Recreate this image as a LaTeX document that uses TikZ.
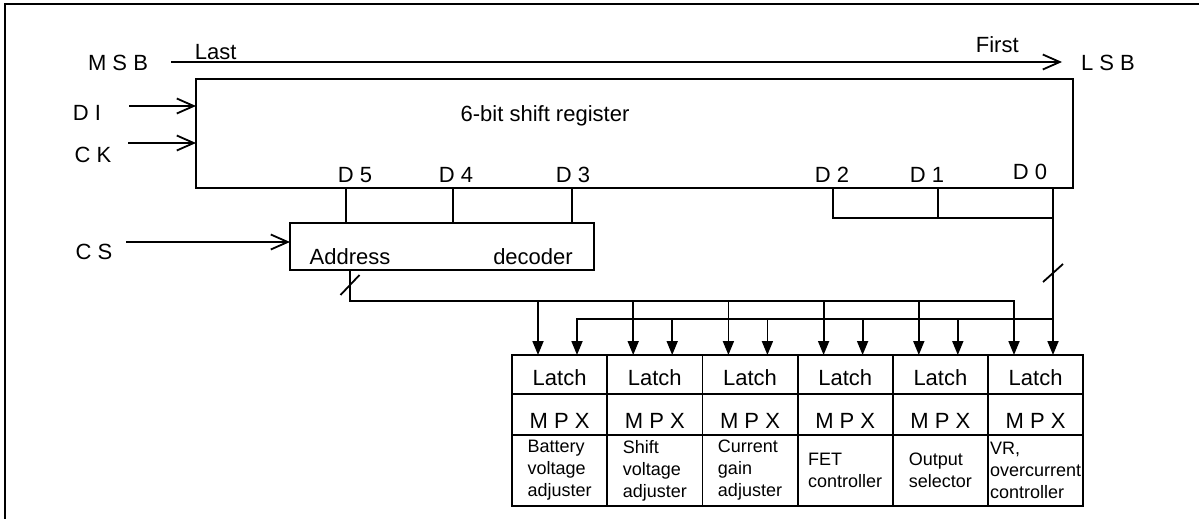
\documentclass[tikz,border=0pt]{standalone}
\usepackage{fontspec}
\setmainfont{Liberation Sans}
\usetikzlibrary{arrows.meta,positioning}

\begin{document}
\begin{tikzpicture}[x=0.5pt,y=-0.5pt,
    line width=0.9pt,
    blk/.style={draw,rectangle,inner sep=0pt,outer sep=0pt},
    lbl/.style={font=\fontsize{11}{13}\selectfont,inner sep=1pt},
    cell/.style={blk,minimum width=47.6pt,font=\fontsize{11}{13}\selectfont},
    latchcell/.style={cell,minimum height=19.5pt,text height=15pt,text depth=4.5pt},
    mpxcell/.style={cell,minimum height=20.5pt,text height=17pt,text depth=3.5pt},
    desccell/.style={cell,minimum height=35.5pt,align=left,font=\fontsize{9}{11}\selectfont},
    fill>/.style={-{Triangle[length=7pt,width=5.5pt]}},
    >={Straight Barb[length=8.5pt,width=7.5pt]}]

  \useasboundingbox (0,0) rectangle (1199,519);

  % --- frame ---
  \draw[line width=1.4pt] (1199,4) -- (5,4) -- (5,519);

  % --- shift register ---
  \node[blk,minimum width=438.5pt,minimum height=54.5pt] (reg) at (634.5,133.5) {};
  \node[lbl] (regname) at (545,116) {6-bit shift register};

  \node[lbl] (msb) at (118,63) {M S B};
  \node[lbl] (lsb) at (1108,63) {L S B};
  \coordinate (msbend) at (171,62);
  \coordinate (lsbend) at (1062,62);
  \draw[->] (msbend) -- (lsbend);
  \node[lbl,anchor=base west] (last) at (192,60) {Last};
  \node[lbl,anchor=base west] (first) at (973,53) {First};

  \node[lbl] (di) at (87,113) {D I};
  \node[lbl] (ck) at (93,155) {C K};
  \coordinate (dia) at (129,106);
  \coordinate (cka) at (128,143);
  \draw[->] (dia) -- (dia -| reg.west);
  \draw[->] (cka) -- (cka -| reg.west);

  \foreach \n/\x in {5/355,4/456,3/573,2/832,1/927}
    \node[lbl] (d\n) at (\x,175) {D \n};
  \node[lbl] (d0) at (1030,172) {D 0};

  % --- address decoder ---
  \node[blk,minimum width=152pt,minimum height=23.5pt] (dec) at (442,246.5) {};
  \node[lbl] (addr) at (350,257) {Address};
  \node[lbl] (decw) at (533,257) {decoder};

  \node[lbl] (cs) at (94,252) {C S};
  \coordinate (csa) at (126,242);
  \draw[->] (csa) -- (csa -| dec.west);

  \foreach \x in {346,453,572}
    \draw (reg.south -| \x,0) -- (dec.north -| \x,0);

  % --- latch / MPX columns ---
  \node[latchcell] (latch1) at (559.6,374.5) {Latch};
  \foreach \i in {2,...,6} {
    \pgfmathtruncatemacro{\p}{\i-1}
    \node[latchcell,right=0pt of latch\p] (latch\i) {Latch};
  }
  \foreach \i/\t in {1/{Battery\\voltage\\adjuster},
                     2/{Shift\\voltage\\adjuster},
                     3/{Current\\gain\\adjuster},
                     4/{FET\\controller},
                     5/{Output\\selector},
                     6/{VR,\\overcurrent\\controller}} {
    \node[mpxcell,below=0pt of latch\i] (mpx\i) {M P X};
    \node[desccell,below=0pt of mpx\i] (desc\i) {\t};
    \coordinate (ina\i) at ([xshift=13pt]latch\i.north west);
    \coordinate (inb\i) at ([xshift=32.5pt]latch\i.north west);
  }

  % --- buses ---
  \coordinate (dj) at (1053,218);
  \draw (reg.south -| 833,0) |- (dj);
  \draw (reg.south -| 938,0) -- (dj -| 938,0);
  \draw[fill>] (reg.south -| inb6) -- (inb6);
  \coordinate (sla) at (1053,273);
  \draw ([shift={(-10,9)}]sla) -- ([shift={(10,-9)}]sla);

  \coordinate (busa) at (350,301);
  \coordinate (busb) at (1053,319);
  \draw[fill>] (dec.south -| busa) -- (busa) -| (ina6);
  \foreach \i in {1,...,5}
    \draw[fill>] (busa -| ina\i) -- (ina\i);
  \coordinate (slb) at (350,285);
  \draw ([shift={(-9.5,10)}]slb) -- ([shift={(9.5,-10)}]slb);

  \draw[fill>] (busb) -| (inb1);
  \foreach \i in {2,...,5}
    \draw[fill>] (busb -| inb\i) -- (inb\i);

\end{tikzpicture}
\end{document}
